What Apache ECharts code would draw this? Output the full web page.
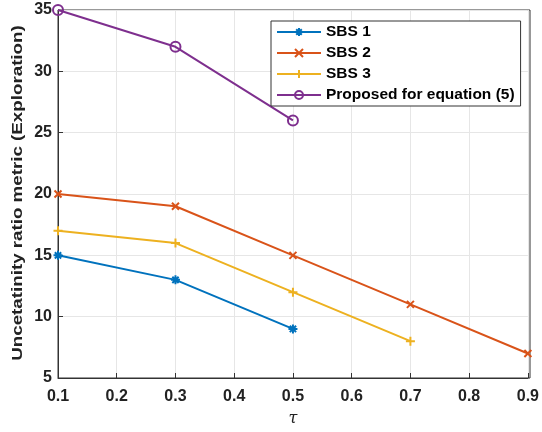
<!DOCTYPE html>
<html><head><meta charset="utf-8">
<script src="https://cdn.jsdelivr.net/npm/echarts@6/dist/echarts.min.js"></script>
<style>html,body{margin:0;padding:0;background:#fff}#c{width:542px;height:432px}</style>
</head><body><div id="c"></div>
<script>
const tau1 = [0.1, 0.3, 0.5];
const sbs1 = [15, 13, 9];
const tau2 = [0.1, 0.3, 0.5, 0.7, 0.9];
const sbs2 = [20, 19, 15, 11, 7];
const tau3 = [0.1, 0.3, 0.5, 0.7];
const sbs3 = [17, 16, 12, 8];
const tauP = [0.1, 0.3, 0.5];
const proposed = [35, 32, 26];
const seriesNames = ['SBS 1', 'SBS 2', 'SBS 3', 'Proposed for equation (5)'];
const xTicks = [0.1, 0.2, 0.3, 0.4, 0.5, 0.6, 0.7, 0.8, 0.9];
const yTicks = [5, 10, 15, 20, 25, 30, 35];
const xTitle = 'τ';
const yTitle = 'Uncetatinity ratio metric (Exploration)';

const colors = ['#0072BD', '#D95319', '#EDB120', '#7E2F8E'];
const pair = (xs, ys) => xs.map((x, i) => [x, ys[i]]);
const star = 'path://M5,0 L5,10 M0,5 L10,5 M1.5,1.5 L8.5,8.5 M8.5,1.5 L1.5,8.5';
const cross = 'path://M0,0 L10,10 M10,0 L0,10';
const plus = 'path://M5,0 L5,10 M0,5 L10,5';
const font = 'Liberation Sans, Arial, Helvetica, sans-serif';

function mk(name, data, color, symbol, size) {
  return {
    name, type: 'line', data, symbol, symbolSize: size,
    lineStyle: { color, width: 2 },
    itemStyle: { color: 'none', borderColor: color, borderWidth: 2 },
    emphasis: { disabled: true }, animation: false
  };
}

const chart = echarts.init(document.getElementById('c'));
chart.setOption({
  animation: false,
  color: colors,
  grid: { left: 58, right: 12, top: 10, bottom: 54, show: false },
  legend: {
    show: true, orient: 'vertical', left: 271, top: 21,
    backgroundColor: '#fff', borderColor: '#333', borderWidth: 1,
    padding: [3, 6, 3, 5], itemGap: 5, itemWidth: 44, itemHeight: 10,
    textStyle: { fontFamily: font, fontWeight: 'bold', fontSize: 15.5, lineHeight: 16, color: '#000' },
    data: seriesNames
  },
  xAxis: {
    type: 'value', min: 0.1, max: 0.9, interval: 0.1,
    name: xTitle, nameLocation: 'middle', nameGap: 33,
    nameTextStyle: { fontFamily: 'DejaVu Serif, serif', fontStyle: 'italic', fontSize: 16, color: '#222' },
    axisLine: { show: true, lineStyle: { color: '#333', width: 1 } },
    axisTick: { show: true, inside: true, length: 5, lineStyle: { color: '#333' } },
    axisLabel: { fontFamily: font, fontWeight: 'bold', fontSize: 16, color: '#222', margin: 11,
      formatter: v => v.toFixed(1) },
    splitLine: { show: true, lineStyle: { color: '#e6e6e6', width: 1 } }
  },
  yAxis: {
    type: 'value', min: 5, max: 35, interval: 5,
    axisLine: { show: true, lineStyle: { color: '#333', width: 1 } },
    axisTick: { show: true, inside: true, length: 5, lineStyle: { color: '#333' } },
    axisLabel: { fontFamily: font, fontWeight: 'bold', fontSize: 16, color: '#222', margin: 6 },
    splitLine: { show: true, lineStyle: { color: '#e6e6e6', width: 1 } }
  },
  series: [
    mk(seriesNames[0], pair(tau1, sbs1), colors[0], star, 9),
    mk(seriesNames[1], pair(tau2, sbs2), colors[1], cross, 7),
    mk(seriesNames[2], pair(tau3, sbs3), colors[2], plus, 9),
    mk(seriesNames[3], pair(tauP, proposed), colors[3], 'circle', 10)
  ],
  graphic: [{
    type: 'rect', shape: { x: 58, y: 10, width: 472, height: 368 },
    style: { fill: 'none', stroke: '#333', lineWidth: 1 }, silent: true, z: 0
  }, {
    type: 'text', x: 18, y: 193, rotation: Math.PI / 2, scaleX: 1.25,
    style: { text: yTitle, fontFamily: font, fontWeight: 'bold', fontSize: 15, fill: '#222',
      align: 'center', verticalAlign: 'middle' }, silent: true
  }]
});
</script></body></html>
